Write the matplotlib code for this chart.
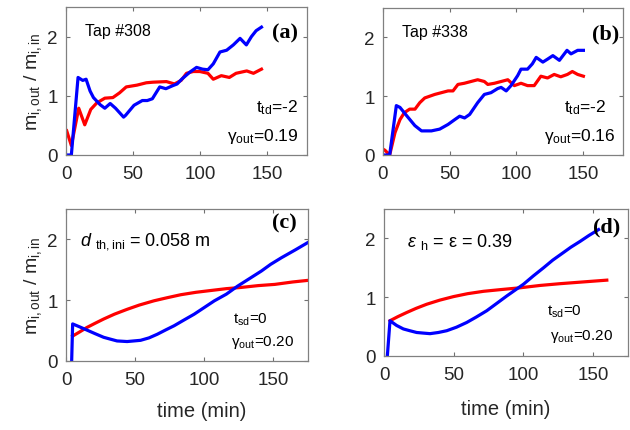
import numpy as np
import matplotlib
matplotlib.use('Agg')
import matplotlib.pyplot as plt

plt.rcParams['font.family'] = ['Liberation Sans', 'DejaVu Sans']
plt.rcParams['mathtext.fontset'] = 'custom'
plt.rcParams['mathtext.rm'] = 'Liberation Sans'
plt.rcParams['mathtext.it'] = 'Liberation Sans:italic'

# ---- data ----
# (a) Tap #308
ta_red = [0.5, 4, 9.5, 14, 18.5, 23, 29, 35, 40, 45, 53, 60, 65, 75, 81, 86, 90, 95,
          100, 106, 110, 116, 122, 127, 135, 140, 146]
ya_red = [0.41, 0.16, 0.79, 0.51, 0.77, 0.88, 0.96, 0.97, 1.05, 1.15, 1.18, 1.22, 1.23, 1.24,
          1.2, 1.26, 1.38, 1.41, 1.41, 1.38, 1.28, 1.34, 1.31, 1.38, 1.42, 1.38, 1.45]
ta_blue = [0.5, 4, 9, 12.5, 15, 18, 20.5, 25.5, 29, 33, 37, 43, 44.5, 50.8, 57, 60.7, 64.5,
           70, 74.6, 79.6, 83, 86.4, 92.5, 97.5, 102, 106, 110, 115, 120, 125, 130, 134.7,
           138.5, 142, 146]
ya_blue = [0, 0, 1.31, 1.26, 1.28, 1.08, 0.97, 0.85, 0.79, 0.87, 0.79, 0.64, 0.67, 0.84,
           0.92, 0.92, 0.95, 1.15, 1.12, 1.17, 1.2, 1.28, 1.4, 1.48, 1.45, 1.44, 1.54, 1.74,
           1.77, 1.86, 1.97, 1.86, 2.0, 2.1, 2.16]

# (b) Tap #338
tb_red = [0, 1.5, 5, 9, 12.7, 16, 20, 24, 27.6, 31.3, 38.8, 43.8, 48.8, 52.5, 56.2, 61, 66,
          71, 76, 78.6, 83.6, 88.6, 93.6, 98.5, 103.5, 108.4, 113.4, 118.4, 123.4, 128.4,
          133.3, 138.3, 142, 146, 150.3]
yb_red = [0.1, 0.08, 0, 0.38, 0.6, 0.72, 0.78, 0.78, 0.89, 0.97, 1.03, 1.06, 1.09, 1.09, 1.2,
          1.22, 1.25, 1.28, 1.25, 1.2, 1.22, 1.25, 1.28, 1.18, 1.22, 1.18, 1.18, 1.34, 1.31,
          1.37, 1.33, 1.37, 1.42, 1.37, 1.34]
tb_blue = [1.5, 5, 10, 12.7, 17.7, 23.9, 28.9, 36.3, 42.5, 48.8, 53.7, 57.5, 61.2, 65, 71,
           76, 81, 86, 88.6, 92.4, 96, 101, 103.5, 108.4, 112, 114.9, 119.9, 123.4, 127.4,
           132.3, 138, 141, 146, 150.3]
yb_blue = [0, 0, 0.84, 0.81, 0.67, 0.5, 0.41, 0.41, 0.44, 0.52, 0.6, 0.66, 0.63, 0.69, 0.89,
           1.03, 1.06, 1.13, 1.15, 1.09, 1.18, 1.35, 1.46, 1.46, 1.55, 1.66, 1.58, 1.63, 1.69,
           1.61, 1.78, 1.72, 1.78, 1.78]

# (c) model, d_th,ini = 0.058 m
tc_red = [4.8, 10, 15, 21, 27.2, 35, 44.2, 53, 63.6, 73, 83, 94, 104.9, 116, 126.7, 139,
          151, 164, 176.5]
yc_red = [0.41, 0.48, 0.55, 0.62, 0.69, 0.77, 0.85, 0.92, 0.99, 1.04, 1.09, 1.13, 1.16,
          1.19, 1.21, 1.24, 1.26, 1.3, 1.33]
tc_blue = [4.1, 4.8, 10, 15, 21, 27.2, 32, 36.9, 44.2, 53.9, 60, 66, 72, 78.2, 85, 92.7,
           100, 107.3, 116, 124, 133, 141.3, 148, 155.9, 166, 176.5]
yc_blue = [0, 0.61, 0.56, 0.51, 0.45, 0.39, 0.36, 0.33, 0.32, 0.34, 0.38, 0.44, 0.51, 0.58,
           0.67, 0.77, 0.88, 0.99, 1.1, 1.23, 1.36, 1.48, 1.59, 1.7, 1.83, 1.97]

# (d) model, eps_h = eps = 0.39
td_red = [4.3, 10, 16.3, 23, 30.6, 40, 49.8, 60, 71.3, 84, 97.6, 112, 126.3, 143, 159.8]
yd_red = [0.6, 0.67, 0.74, 0.81, 0.88, 0.95, 1.01, 1.06, 1.1, 1.13, 1.16, 1.2, 1.23, 1.26,
          1.29]
td_blue = [2.4, 4.3, 9, 13.9, 18.5, 23.4, 28, 33, 39, 45, 52, 59.3, 66, 73.7, 80, 88, 94,
           100, 107, 114.4, 121, 128.7, 134, 140.7, 147, 153.9]
yd_blue = [0, 0.6, 0.52, 0.46, 0.43, 0.4, 0.39, 0.38, 0.4, 0.43, 0.49, 0.57, 0.66, 0.77,
           0.88, 1.02, 1.12, 1.22, 1.36, 1.5, 1.63, 1.76, 1.85, 1.95, 2.05, 2.15]

fig = plt.figure(figsize=(6.3, 4.31), dpi=100)
W, H = 630., 431.
def add_ax(l, r, t, b):
    return fig.add_axes([l / W, 1 - b / H, (r - l) / W, (b - t) / H])

ax_a = add_ax(66, 307, 8, 156)
ax_b = add_ax(383, 623, 9, 156)
ax_c = add_ax(66, 308, 210, 362)
ax_d = add_ax(384, 628, 210, 357)

tick_col = '#262626'
for ax, xmax in [(ax_a, 180), (ax_b, 180), (ax_c, 175), (ax_d, 175)]:
    ax.set_xlim(0, xmax)
    ax.set_ylim(0, 2.5)
    ax.set_xticks([0, 50, 100, 150])
    ax.set_yticks([0, 1, 2])
    ax.tick_params(direction='in', length=3, width=0.8, top=True, right=True,
                   labelsize=13.5, colors='#707070', labelcolor=tick_col)
    ax.tick_params(axis='x', pad=7)
    ax.tick_params(axis='y', pad=6)
    for s in ax.spines.values():
        s.set_color('#808080')
        s.set_linewidth(0.9)

lw = 2.3
for ax, tr, yr, tb, yb in [(ax_a, ta_red, ya_red, ta_blue, ya_blue),
                           (ax_b, tb_red, yb_red, tb_blue, yb_blue),
                           (ax_c, tc_red, yc_red, tc_blue, yc_blue),
                           (ax_d, td_red, yd_red, td_blue, yd_blue)]:
    ax.plot(tr, yr, color='red', lw=lw, solid_joinstyle='round')
    ax.plot(tb, yb, color='blue', lw=lw, solid_joinstyle='round')

ylab = r'm$_{\mathrm{i,out}}$ / m$_{\mathrm{i,in}}$'
for ax in (ax_a, ax_c):
    ax.set_ylabel(ylab, fontsize=14, color=tick_col, labelpad=2)
ax_c.set_xlabel('time (min)', fontsize=14.5, color=tick_col)
ax_d.set_xlabel('time (min)', fontsize=14.5, color=tick_col)
ax_c.xaxis.set_label_coords(0.56, -0.26)
ax_d.xaxis.set_label_coords(0.5, -0.29)

letter_kw = dict(fontsize=16, fontweight='bold', family='Liberation Serif',
                 ha='right', va='center')
ax_a.text(0.963, 0.83, '(a)', transform=ax_a.transAxes, **letter_kw)
ax_b.text(0.985, 0.83, '(b)', transform=ax_b.transAxes, **letter_kw)
ax_c.text(0.955, 0.91, '(c)', transform=ax_c.transAxes, **letter_kw)
ax_d.text(0.967, 0.88, '(d)', transform=ax_d.transAxes, **letter_kw)

ax_a.text(0.079, 0.84, 'Tap #308', transform=ax_a.transAxes, fontsize=11.5, va='center')
ax_b.text(0.079, 0.84, 'Tap #338', transform=ax_b.transAxes, fontsize=11.5, va='center')

ax_a.text(0.963, 0.33, r't$_{\mathrm{td}}$=-2', transform=ax_a.transAxes, fontsize=12.5,
          ha='right', va='center')
ax_a.text(0.963, 0.13, r'γ$_{\mathrm{out}}$=0.19', transform=ax_a.transAxes, fontsize=12.5,
          ha='right', va='center')
ax_b.text(0.93, 0.33, r't$_{\mathrm{td}}$=-2', transform=ax_b.transAxes, fontsize=12.5,
          ha='right', va='center')
ax_b.text(0.97, 0.13, r'γ$_{\mathrm{out}}$=0.16', transform=ax_b.transAxes, fontsize=12.5,
          ha='right', va='center')

ax_c.text(0.058, 0.79, r'$\mathit{d}$ $_{\mathrm{th,ini}}$ = 0.058 m', transform=ax_c.transAxes,
          fontsize=13, va='center')
ax_d.text(0.094, 0.78, r'$\mathit{ε}$ $_{\mathrm{h}}$ = ε = 0.39', transform=ax_d.transAxes,
          fontsize=13, va='center')

ax_c.text(0.69, 0.28, r't$_{\mathrm{sd}}$=0', transform=ax_c.transAxes, fontsize=11, va='center')
ax_c.text(0.68, 0.13, r'γ$_{\mathrm{out}}$=0.20', transform=ax_c.transAxes, fontsize=11,
          va='center')
ax_d.text(0.67, 0.31, r't$_{\mathrm{sd}}$=0', transform=ax_d.transAxes, fontsize=11, va='center')
ax_d.text(0.68, 0.14, r'γ$_{\mathrm{out}}$=0.20', transform=ax_d.transAxes, fontsize=11,
          va='center')

fig.savefig('out.png', dpi=100)
